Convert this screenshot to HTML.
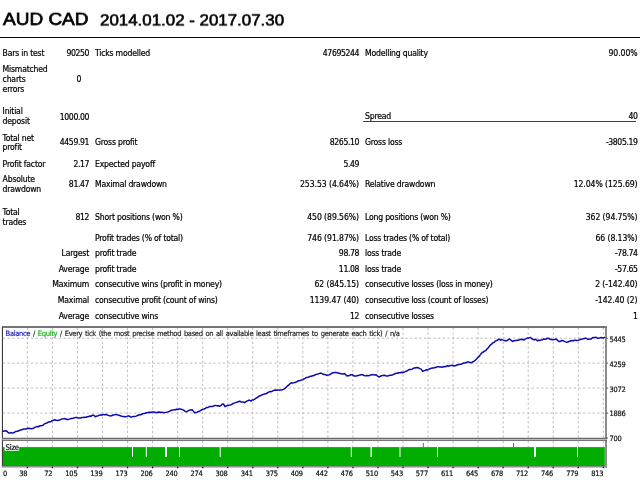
<!DOCTYPE html>
<html lang="en"><head><meta charset="utf-8"><title>Strategy Tester Report</title>
<style>
html,body{margin:0;padding:0;background:#fff}
body{width:640px;height:480px;position:relative;overflow:hidden;font-family:"DejaVu Sans Condensed","DejaVu Sans","Liberation Sans",sans-serif;font-stretch:condensed;color:#000}
.t{position:absolute;white-space:nowrap;-webkit-text-stroke:0.2px #000;font-size:8.6px;line-height:12px;letter-spacing:-0.2px;height:12px}
.h{position:absolute;white-space:nowrap;font-family:"Liberation Sans",Arial,sans-serif;font-stretch:normal;color:#000}
.n{letter-spacing:-0.4px}
.p{letter-spacing:-0.08px}
svg{position:absolute;left:0;top:0}
svg text{font-family:"DejaVu Sans Condensed","DejaVu Sans","Liberation Sans",sans-serif;font-stretch:condensed}
</style></head><body>
<div class="h" style="left:2.6px;top:6.9px;font-size:19px;line-height:24px;transform-origin:0 18.6px;transform:scaleY(0.93) translateY(-0.25px);will-change:transform;-webkit-text-stroke:0.75px #000">AUD CAD</div>
<div class="h" style="left:99.9px;top:8px;font-size:16.9px;line-height:24px;transform-origin:0 18px;transform:scaleY(0.93) translateY(0.4px);will-change:transform;-webkit-text-stroke:0.65px #000">2014.01.02 - 2017.07.30</div>
<div style="position:absolute;left:0;top:36.5px;width:640px;height:1.4px;background:#0a0a0a"></div>
<div style="position:absolute;left:363px;top:120.5px;width:273px;height:1.2px;background:#c40808"></div>
<div class="t" style="left:2.6px;top:46.55px">Bars in test</div>
<div class="t n" style="right:551.0px;top:46.55px">90250</div>
<div class="t" style="left:95.0px;top:46.55px">Ticks modelled</div>
<div class="t n" style="right:281.0px;top:46.55px">47695244</div>
<div class="t" style="left:365.0px;top:46.55px">Modelling quality</div>
<div class="t p" style="right:2.5px;top:46.55px">90.00%</div>
<div class="t" style="left:2.6px;top:62.80px">Mismatched</div>
<div class="t" style="left:2.6px;top:72.80px">charts</div>
<div class="t" style="left:2.6px;top:82.55px">errors</div>
<div class="t n" style="right:559.1px;top:72.55px">0</div>
<div class="t" style="left:2.6px;top:105.05px">Initial</div>
<div class="t" style="left:2.6px;top:115.05px">deposit</div>
<div class="t n" style="right:551.0px;top:110.80px">1000.00</div>
<div class="t" style="left:365.0px;top:110.10px">Spread</div>
<div class="t n" style="right:2.5px;top:110.10px">40</div>
<div class="t" style="left:2.6px;top:132.10px">Total net</div>
<div class="t" style="left:2.6px;top:141.05px">profit</div>
<div class="t n" style="right:551.0px;top:136.30px">4459.91</div>
<div class="t" style="left:95.0px;top:136.30px">Gross profit</div>
<div class="t n" style="right:281.0px;top:136.30px">8265.10</div>
<div class="t" style="left:365.0px;top:136.30px">Gross loss</div>
<div class="t n" style="right:2.5px;top:136.30px">-3805.19</div>
<div class="t" style="left:2.6px;top:157.55px">Profit factor</div>
<div class="t n" style="right:551.0px;top:157.55px">2.17</div>
<div class="t" style="left:95.0px;top:157.55px">Expected payoff</div>
<div class="t n" style="right:281.0px;top:157.55px">5.49</div>
<div class="t" style="left:2.6px;top:172.55px">Absolute</div>
<div class="t" style="left:2.6px;top:182.55px">drawdown</div>
<div class="t n" style="right:551.0px;top:177.55px">81.47</div>
<div class="t" style="left:95.0px;top:177.55px">Maximal drawdown</div>
<div class="t p" style="right:281.0px;top:177.55px">253.53 (4.64%)</div>
<div class="t" style="left:365.0px;top:177.55px">Relative drawdown</div>
<div class="t p" style="right:2.5px;top:177.55px">12.04% (125.69)</div>
<div class="t" style="left:2.6px;top:205.80px">Total</div>
<div class="t" style="left:2.6px;top:215.55px">trades</div>
<div class="t n" style="right:551.0px;top:211.10px">812</div>
<div class="t" style="left:95.0px;top:211.10px">Short positions (won %)</div>
<div class="t p" style="right:281.0px;top:211.10px">450 (89.56%)</div>
<div class="t" style="left:365.0px;top:211.10px">Long positions (won %)</div>
<div class="t p" style="right:2.5px;top:211.10px">362 (94.75%)</div>
<div class="t" style="left:95.0px;top:232.10px">Profit trades (% of total)</div>
<div class="t p" style="right:281.0px;top:232.10px">746 (91.87%)</div>
<div class="t" style="left:365.0px;top:232.10px">Loss trades (% of total)</div>
<div class="t p" style="right:2.5px;top:232.10px">66 (8.13%)</div>
<div class="t" style="right:551.0px;top:246.80px">Largest</div>
<div class="t" style="left:95.0px;top:246.80px">profit trade</div>
<div class="t n" style="right:281.0px;top:246.80px">98.78</div>
<div class="t" style="left:365.0px;top:246.80px">loss trade</div>
<div class="t n" style="right:2.5px;top:246.80px">-78.74</div>
<div class="t" style="right:551.0px;top:262.55px">Average</div>
<div class="t" style="left:95.0px;top:262.55px">profit trade</div>
<div class="t n" style="right:281.0px;top:262.55px">11.08</div>
<div class="t" style="left:365.0px;top:262.55px">loss trade</div>
<div class="t n" style="right:2.5px;top:262.55px">-57.65</div>
<div class="t" style="right:551.0px;top:278.05px">Maximum</div>
<div class="t" style="left:95.0px;top:278.05px">consecutive wins (profit in money)</div>
<div class="t p" style="right:281.0px;top:278.05px">62 (845.15)</div>
<div class="t" style="left:365.0px;top:278.05px">consecutive losses (loss in money)</div>
<div class="t p" style="right:2.5px;top:278.05px">2 (-142.40)</div>
<div class="t" style="right:551.0px;top:293.55px">Maximal</div>
<div class="t" style="left:95.0px;top:293.55px">consecutive profit (count of wins)</div>
<div class="t p" style="right:281.0px;top:293.55px">1139.47 (40)</div>
<div class="t" style="left:365.0px;top:293.55px">consecutive loss (count of losses)</div>
<div class="t p" style="right:2.5px;top:293.55px">-142.40 (2)</div>
<div class="t" style="right:551.0px;top:310.10px">Average</div>
<div class="t" style="left:95.0px;top:310.10px">consecutive wins</div>
<div class="t n" style="right:281.0px;top:310.10px">12</div>
<div class="t" style="left:365.0px;top:310.10px">consecutive losses</div>
<div class="t n" style="right:2.5px;top:310.10px">1</div>
<svg width="640" height="480" viewBox="0 0 640 480">
<g stroke="#bcbcbc" stroke-width="1" stroke-dasharray="2.34 2.34" fill="none">
<path d="M27.40 327.7V438"/><path d="M27.40 441V447"/>
<path d="M52.44 327.7V438"/><path d="M52.44 441V447"/>
<path d="M77.48 327.7V438"/><path d="M77.48 441V447"/>
<path d="M102.52 327.7V438"/><path d="M102.52 441V447"/>
<path d="M127.56 327.7V438"/><path d="M127.56 441V447"/>
<path d="M152.60 327.7V438"/><path d="M152.60 441V447"/>
<path d="M177.64 327.7V438"/><path d="M177.64 441V447"/>
<path d="M202.68 327.7V438"/><path d="M202.68 441V447"/>
<path d="M227.72 327.7V438"/><path d="M227.72 441V447"/>
<path d="M252.76 327.7V438"/><path d="M252.76 441V447"/>
<path d="M277.80 327.7V438"/><path d="M277.80 441V447"/>
<path d="M302.84 327.7V438"/><path d="M302.84 441V447"/>
<path d="M327.88 327.7V438"/><path d="M327.88 441V447"/>
<path d="M352.92 327.7V438"/><path d="M352.92 441V447"/>
<path d="M377.96 327.7V438"/><path d="M377.96 441V447"/>
<path d="M403.00 327.7V438"/><path d="M403.00 441V447"/>
<path d="M428.04 327.7V438"/><path d="M428.04 441V447"/>
<path d="M453.08 327.7V438"/><path d="M453.08 441V447"/>
<path d="M478.12 327.7V438"/><path d="M478.12 441V447"/>
<path d="M503.16 327.7V438"/><path d="M503.16 441V447"/>
<path d="M528.20 327.7V438"/><path d="M528.20 441V447"/>
<path d="M553.24 327.7V438"/><path d="M553.24 441V447"/>
<path d="M578.28 327.7V438"/><path d="M578.28 441V447"/>
<path d="M603.32 327.7V438"/><path d="M603.32 441V447"/>
<path d="M2.8 338.20H605"/>
<path d="M2.8 363.15H605"/>
<path d="M2.8 388.10H605"/>
<path d="M2.8 413.05H605"/>
</g>
<rect x="2.9" y="447.1" width="601.9" height="19" fill="#00ad00"/>
<g id="notches" fill="#fff">
<rect x="132.0" y="447" width="1.0" height="10"/><rect x="145.8" y="447" width="1.0" height="10"/><rect x="165.0" y="447" width="2.0" height="10"/><rect x="179.0" y="447" width="1.0" height="10"/><rect x="219.7" y="447" width="1.0" height="10"/><rect x="350.8" y="447" width="1.0" height="10"/><rect x="370.5" y="447" width="1.5" height="10"/><rect x="399.5" y="447" width="1.0" height="10"/><rect x="437.0" y="447" width="1.0" height="10"/><rect x="534.1" y="447" width="1.8" height="10"/><rect x="577.0" y="447" width="1.0" height="10"/>
</g>
<path d="M423.3 443V447M513.5 443V447" stroke="#00ad00" stroke-width="1"/>
<g fill="none">
<path d="M2.4 467.3V327" stroke="#262626" stroke-width="1"/>
<path d="M2 327H607" stroke="#484848" stroke-width="1.4"/>
<path d="M606 326.3V467.5" stroke="#808080" stroke-width="1.8"/>
</g>
<path d="M2 438.4H606.9" stroke="#666" stroke-width="1.2" fill="none"/>
<path d="M2 439.45H606.9" stroke="#d0d0d0" stroke-width="0.9" fill="none"/>
<path d="M2 440.3H606.9" stroke="#555" stroke-width="1" fill="none"/>
<path d="M2 466.75H606.9" stroke="#8c8c8c" stroke-width="1.4" fill="none"/>
<g stroke="#333" stroke-width="1" fill="none">
<path d="M606.5 338.2H607.8"/><path d="M606.5 363.1H607.8"/><path d="M606.5 388.1H607.8"/><path d="M606.5 413.1H607.8"/><path d="M606.5 438.0H607.8"/>
<path d="M27.40 466.7V468.3" stroke-width="1.3" stroke="#111"/><path d="M52.44 466.7V468.3" stroke-width="1.3" stroke="#111"/><path d="M77.48 466.7V468.3" stroke-width="1.3" stroke="#111"/><path d="M102.52 466.7V468.3" stroke-width="1.3" stroke="#111"/><path d="M127.56 466.7V468.3" stroke-width="1.3" stroke="#111"/><path d="M152.60 466.7V468.3" stroke-width="1.3" stroke="#111"/><path d="M177.64 466.7V468.3" stroke-width="1.3" stroke="#111"/><path d="M202.68 466.7V468.3" stroke-width="1.3" stroke="#111"/><path d="M227.72 466.7V468.3" stroke-width="1.3" stroke="#111"/><path d="M252.76 466.7V468.3" stroke-width="1.3" stroke="#111"/><path d="M277.80 466.7V468.3" stroke-width="1.3" stroke="#111"/><path d="M302.84 466.7V468.3" stroke-width="1.3" stroke="#111"/><path d="M327.88 466.7V468.3" stroke-width="1.3" stroke="#111"/><path d="M352.92 466.7V468.3" stroke-width="1.3" stroke="#111"/><path d="M377.96 466.7V468.3" stroke-width="1.3" stroke="#111"/><path d="M403.00 466.7V468.3" stroke-width="1.3" stroke="#111"/><path d="M428.04 466.7V468.3" stroke-width="1.3" stroke="#111"/><path d="M453.08 466.7V468.3" stroke-width="1.3" stroke="#111"/><path d="M478.12 466.7V468.3" stroke-width="1.3" stroke="#111"/><path d="M503.16 466.7V468.3" stroke-width="1.3" stroke="#111"/><path d="M528.20 466.7V468.3" stroke-width="1.3" stroke="#111"/><path d="M553.24 466.7V468.3" stroke-width="1.3" stroke="#111"/><path d="M578.28 466.7V468.3" stroke-width="1.3" stroke="#111"/><path d="M603.32 466.7V468.3" stroke-width="1.3" stroke="#111"/>
</g>
<path d="M3.1 431.2 4.7 430.9 6.2 430.8 7.4 431.7 8.6 433.1 9.8 433.1 10.9 432.6 12.1 432.9 13.3 432.8 14.7 432.2 16.0 431.4 17.4 431.3 18.8 430.8 20.0 430.1 21.2 430.1 22.4 429.4 23.6 429.1 24.9 429.0 26.1 429.0 27.3 428.4 28.6 428.2 29.9 428.4 31.2 428.8 32.4 428.4 33.6 428.2 34.8 427.4 36.0 426.9 37.4 426.5 38.7 426.7 40.0 425.7 41.4 425.8 42.8 425.4 44.1 424.2 45.5 423.4 46.9 423.0 48.2 422.2 49.5 421.8 50.8 421.7 52.1 420.6 53.4 420.4 54.7 419.8 56.2 420.3 57.8 420.6 59.2 420.0 60.5 419.7 61.9 418.9 63.3 418.8 64.6 418.6 65.9 419.0 67.2 419.5 68.5 419.4 69.9 418.9 71.2 418.5 72.6 418.4 73.9 418.0 75.3 417.6 76.6 417.5 77.9 417.9 79.2 418.0 80.5 418.0 81.9 417.5 83.3 417.5 84.7 417.2 86.1 417.3 87.5 416.7 88.8 416.6 90.0 415.9 91.2 416.2 92.5 415.2 93.8 415.2 95.3 416.7 96.6 416.1 97.9 415.9 99.2 415.2 100.0 415.2 101.2 414.8 102.5 414.9 103.8 414.4 105.0 414.7 106.2 414.4 107.6 415.1 108.9 415.5 110.2 415.9 111.5 415.8 112.9 415.0 114.2 414.9 115.6 414.4 116.9 414.8 118.3 415.1 119.6 415.4 121.0 416.0 122.3 416.4 123.7 416.4 125.0 416.7 126.5 416.4 128.1 415.9 129.3 416.1 130.5 417.0 131.9 416.9 133.3 416.5 134.7 416.5 136.1 416.1 137.5 415.5 138.8 415.0 140.1 414.7 141.4 414.5 142.7 413.7 144.0 413.6 145.3 413.3 146.7 412.8 148.1 412.5 149.5 412.2 150.9 412.5 152.3 412.0 153.6 412.0 154.9 412.3 156.2 412.8 157.8 412.3 159.4 412.0 160.6 412.5 161.7 412.1 162.8 412.6 164.0 412.8 165.3 412.4 166.5 412.3 167.8 411.9 169.0 411.5 170.3 410.8 171.6 410.3 172.8 410.1 174.1 409.7 175.3 409.8 176.6 409.2 177.8 409.6 178.9 408.9 180.1 408.9 181.2 409.2 182.4 409.6 183.6 410.2 184.8 411.1 186.0 411.7 187.2 411.4 188.5 410.7 189.7 410.1 191.0 410.0 192.2 409.7 193.3 411.1 194.5 412.8 195.9 412.4 197.2 412.2 198.6 411.5 200.0 410.8 201.5 410.0 202.8 409.4 204.1 409.0 205.4 408.4 206.8 407.4 208.1 407.5 209.4 406.6 210.6 406.6 211.9 406.5 213.1 406.2 214.4 405.6 215.6 405.5 216.9 405.7 218.2 405.7 219.5 406.2 220.8 405.6 222.1 404.3 223.4 403.9 225.0 406.6 226.2 405.9 227.5 405.6 228.8 405.2 230.0 405.0 231.2 404.7 232.5 403.8 233.7 403.3 234.9 402.9 236.1 402.4 237.4 402.1 238.6 401.4 239.8 401.2 241.0 401.9 242.2 402.1 243.3 402.1 244.5 402.7 245.7 401.8 246.8 401.2 248.0 400.6 249.2 400.0 250.8 401.1 252.1 400.0 253.5 399.9 254.8 399.2 256.2 398.0 257.5 397.3 258.9 396.2 260.2 395.8 261.6 394.9 263.0 394.6 264.4 393.9 265.8 393.8 267.2 393.0 268.6 392.2 270.0 391.5 271.4 391.7 272.8 390.9 274.2 390.3 275.6 390.0 276.9 390.3 278.3 389.9 279.7 390.3 280.9 389.9 282.0 389.9 283.2 389.4 284.4 388.8 285.8 387.7 287.2 386.2 288.6 385.1 290.0 383.7 291.4 382.8 292.6 383.0 293.8 382.8 295.0 382.4 296.2 382.1 297.5 381.3 298.8 380.7 300.0 380.5 301.2 380.1 302.5 379.7 303.8 379.0 305.0 378.3 306.2 377.5 307.5 377.4 308.8 377.0 310.1 376.3 311.4 376.2 312.7 375.7 314.0 375.5 315.4 374.6 316.8 374.2 318.2 373.9 319.6 373.4 321.0 373.1 322.4 373.8 323.8 374.5 325.2 374.6 326.6 375.2 327.9 375.1 329.2 374.7 330.5 374.2 331.8 373.3 333.1 372.7 334.4 372.5 335.6 372.5 336.9 372.7 338.1 372.9 339.4 373.5 340.6 373.6 341.9 373.9 343.2 373.9 344.5 373.6 345.7 374.7 346.9 375.9 348.2 375.7 349.6 375.5 350.9 374.7 352.3 374.7 353.9 375.9 355.1 375.9 356.4 375.9 357.6 375.6 358.8 375.4 360.0 375.0 361.3 374.6 362.5 374.7 364.1 375.5 365.6 375.9 366.9 375.5 368.1 375.7 369.4 375.6 370.6 374.9 371.9 374.7 373.2 374.6 374.5 375.1 375.8 374.7 377.4 376.0 378.9 377.0 380.3 376.3 381.6 375.8 383.0 375.4 384.4 375.2 385.7 375.8 387.0 375.9 388.3 375.9 389.7 375.2 391.1 375.2 392.5 374.9 393.9 374.2 395.3 373.6 396.5 373.3 397.6 373.2 398.8 372.7 400.0 372.8 401.2 372.2 402.4 372.7 403.5 372.2 404.7 371.9 405.9 371.3 407.0 371.0 408.2 370.0 409.4 369.5 410.7 369.5 412.0 369.1 413.3 368.3 414.6 368.0 415.9 367.7 417.2 367.5 418.5 367.8 419.8 368.6 421.1 369.1 422.7 371.4 423.9 370.8 425.1 370.4 426.4 369.8 427.6 370.0 428.8 369.1 430.0 368.7 431.2 368.3 432.5 368.0 433.8 368.0 435.0 367.3 436.2 367.4 437.5 366.7 438.7 366.8 439.9 367.0 441.0 367.1 442.2 367.2 443.6 366.6 444.9 366.7 446.3 366.2 447.6 365.8 449.0 366.2 450.4 365.4 451.7 365.4 453.1 365.2 453.9 365.9 455.1 365.8 456.4 365.3 457.6 364.8 458.8 364.6 460.0 364.3 461.3 364.2 462.5 363.6 463.8 363.0 465.0 363.0 466.2 362.4 467.5 362.1 468.8 362.0 469.9 362.6 471.1 362.8 472.6 362.0 474.2 361.2 475.5 360.0 476.8 358.8 478.1 357.3 479.4 356.1 480.7 354.2 482.0 352.7 483.3 352.0 484.7 351.1 486.0 350.3 487.1 348.9 488.3 347.7 489.5 346.1 490.6 344.8 491.8 343.9 493.0 342.9 494.1 342.4 495.3 341.1 496.4 340.6 497.6 340.2 498.8 339.2 500.2 339.9 501.7 339.6 503.1 340.1 504.4 340.5 505.6 340.9 506.9 340.6 508.1 339.9 509.4 339.0 510.9 340.0 512.5 341.5 514.0 340.7 515.6 340.5 517.2 340.3 518.8 340.2 520.3 339.4 521.9 339.2 523.8 340.1 525.0 339.1 526.2 338.6 527.6 337.9 528.9 337.9 530.3 337.4 531.7 338.7 533.1 339.5 534.4 339.7 535.6 339.2 537.5 340.8 538.8 340.2 540.0 340.4 541.2 339.9 542.5 339.7 543.8 339.0 545.0 339.2 546.2 339.0 547.5 338.2 548.9 338.4 550.3 339.4 551.7 339.4 553.1 339.9 554.7 339.4 556.2 339.0 557.8 340.6 559.4 341.5 560.6 341.3 561.9 340.5 563.1 340.7 564.4 341.4 565.6 341.9 566.9 342.4 568.3 341.8 569.7 341.2 571.1 340.8 572.5 340.5 573.8 340.7 575.0 340.1 576.2 340.5 577.5 340.5 578.8 340.1 580.0 339.4 581.2 339.2 582.5 339.1 583.8 338.6 585.0 338.2 586.2 338.2 587.5 339.3 588.8 339.2 590.0 339.1 591.2 338.9 592.5 337.8 593.8 337.6 595.0 337.4 596.2 337.3 597.5 338.2 598.8 338.2 599.9 337.9 601.1 337.6 602.3 337.7 603.4 337.9 604.6 337.4" fill="none" stroke="#0a0ab0" stroke-width="1.5" stroke-linejoin="round" stroke-linecap="round"/>
<g font-size="7.4" fill="#111" stroke="#111" stroke-width="0.2" letter-spacing="-0.22">
<text x="609.4" y="341.6">5445</text><text x="609.4" y="366.5">4259</text><text x="609.4" y="391.5">3072</text><text x="609.4" y="416.4">1886</text><text x="609.4" y="441.4">700</text>
<text x="3.1" y="475.5">0</text><text x="27.3" y="475.5" text-anchor="end">38</text><text x="52.3" y="475.5" text-anchor="end">72</text><text x="77.4" y="475.5" text-anchor="end">105</text><text x="102.4" y="475.5" text-anchor="end">139</text><text x="127.5" y="475.5" text-anchor="end">173</text><text x="152.5" y="475.5" text-anchor="end">206</text><text x="177.5" y="475.5" text-anchor="end">240</text><text x="202.6" y="475.5" text-anchor="end">274</text><text x="227.6" y="475.5" text-anchor="end">308</text><text x="252.7" y="475.5" text-anchor="end">341</text><text x="277.7" y="475.5" text-anchor="end">375</text><text x="302.7" y="475.5" text-anchor="end">409</text><text x="327.8" y="475.5" text-anchor="end">442</text><text x="352.8" y="475.5" text-anchor="end">476</text><text x="377.9" y="475.5" text-anchor="end">510</text><text x="402.9" y="475.5" text-anchor="end">543</text><text x="427.9" y="475.5" text-anchor="end">577</text><text x="453.0" y="475.5" text-anchor="end">611</text><text x="478.0" y="475.5" text-anchor="end">645</text><text x="503.1" y="475.5" text-anchor="end">678</text><text x="528.1" y="475.5" text-anchor="end">712</text><text x="553.1" y="475.5" text-anchor="end">746</text><text x="578.2" y="475.5" text-anchor="end">779</text><text x="603.2" y="475.5" text-anchor="end">813</text>
</g>
<rect x="4.6" y="443.6" width="14.6" height="7.2" fill="#fff"/>
<text x="5.6" y="449.6" font-size="7.8" letter-spacing="-0.3" fill="#111" stroke="#111" stroke-width="0.2">Size</text>
<text x="5.6" y="336" font-size="7.5" letter-spacing="-0.33" word-spacing="1.0" fill="#1a1a1a" stroke="#1a1a1a" stroke-width="0.15"><tspan fill="#1818b4" stroke="#1818b4">Balance</tspan> / <tspan fill="#18b018" stroke="#18b018">Equity</tspan> / Every tick (the most precise method based on all available least timeframes to generate each tick) / n/a</text>
</svg>
</body></html>
